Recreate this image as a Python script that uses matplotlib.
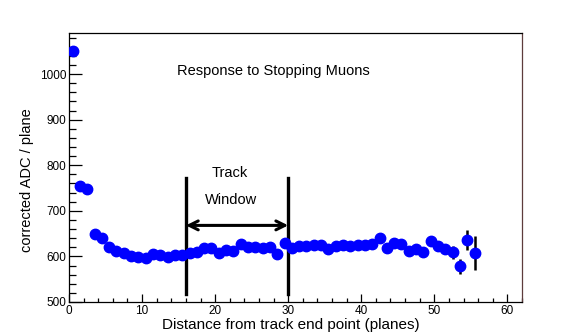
import matplotlib
matplotlib.use("Agg")
import matplotlib.pyplot as plt
from matplotlib.ticker import MultipleLocator

x = [0.5, 1.5, 2.5, 3.5, 4.5, 5.5, 6.5, 7.5, 8.5, 9.5, 10.5, 11.5, 12.5, 13.5,
     14.5, 15.5, 16.5, 17.5, 18.5, 19.5, 20.5, 21.5, 22.5, 23.5, 24.5, 25.5,
     26.5, 27.5, 28.5, 29.5, 30.5, 31.5, 32.5, 33.5, 34.5, 35.5, 36.5, 37.5,
     38.5, 39.5, 40.5, 41.5, 42.5, 43.5, 44.5, 45.5, 46.5, 47.5, 48.5, 49.5,
     50.5, 51.5, 52.5, 53.5, 54.5, 55.5]
y = [1051, 754, 747, 650, 641, 621, 612, 607, 600, 599, 596, 605, 602, 598,
     603, 602, 608, 609, 618, 618, 608, 615, 612, 627, 620, 621, 618, 620,
     606, 629, 619, 622, 622, 625, 625, 616, 622, 625, 622, 625, 624, 627,
     640, 619, 629, 627, 611, 616, 610, 634, 622, 617, 609, 578, 636, 608]
yerr = [6, 4, 4, 3, 3, 3, 3, 3, 3, 3, 3, 3, 3, 3,
        3, 3, 3, 3, 3, 3, 3, 3, 3, 3, 3, 3, 3, 3,
        3, 3, 3, 3, 3, 3, 3, 3, 3, 3, 3, 3, 3, 3,
        4, 4, 4, 4, 4, 5, 5, 6, 7, 9, 14, 17, 21, 37]

window_lo, window_hi = 16, 30
line_ylo, line_yhi = 518, 772
arrow_y = 668

plt.rcParams['font.family'] = ['Liberation Sans', 'DejaVu Sans']

fig = plt.figure(figsize=(5.67, 3.36), dpi=100)
ax = fig.add_axes([69/567, 1-302/336, (522-69)/567, (302-33)/336])

ax.errorbar(x, y, yerr=yerr, fmt='o', color='#0000ff', ecolor='black',
            elinewidth=1.8, markersize=7.5, capsize=0, zorder=3)

ax.plot([window_lo, window_lo], [line_ylo, line_yhi], color='black', lw=2.4)
ax.plot([window_hi, window_hi], [line_ylo, line_yhi], color='black', lw=2.4)
ax.annotate('', xy=(window_lo, arrow_y), xytext=(window_hi, arrow_y),
            arrowprops=dict(arrowstyle='<->', lw=2.2, color='black',
                            mutation_scale=16, shrinkA=0, shrinkB=0))

ax.text(22.0, 783, 'Track', ha='center', va='center', fontsize=10.5)
ax.text(22.2, 723, 'Window', ha='center', va='center', fontsize=10.5)
ax.text(28.0, 1007, 'Response to Stopping Muons', ha='center', va='center',
        fontsize=10.5)

ax.set_xlim(0, 62)
ax.set_ylim(500, 1090)
ax.xaxis.set_major_locator(MultipleLocator(10))
ax.xaxis.set_minor_locator(MultipleLocator(2))
ax.yaxis.set_major_locator(MultipleLocator(100))
ax.yaxis.set_minor_locator(MultipleLocator(20))
ax.tick_params(which='both', direction='in', top=False, right=False,
               labelsize=8.5, pad=2, width=0.9)
ax.tick_params(axis='y', which='major', length=9.4)
ax.tick_params(axis='y', which='minor', length=5)
ax.tick_params(axis='x', which='major', length=5.8)
ax.tick_params(axis='x', which='minor', length=3)
ax.spines['right'].set_color('#5e3c3c')
for s in ax.spines.values():
    s.set_linewidth(0.9)

ax.set_xlabel('Distance from track end point (planes)', fontsize=11, va='top')
ax.xaxis.set_label_coords(0.489, -0.058)
ax.set_ylabel('corrected ADC / plane', fontsize=10.5, va='center')
ax.yaxis.set_label_coords(-0.093, 0.454)

fig.savefig('out.png', dpi=100)
